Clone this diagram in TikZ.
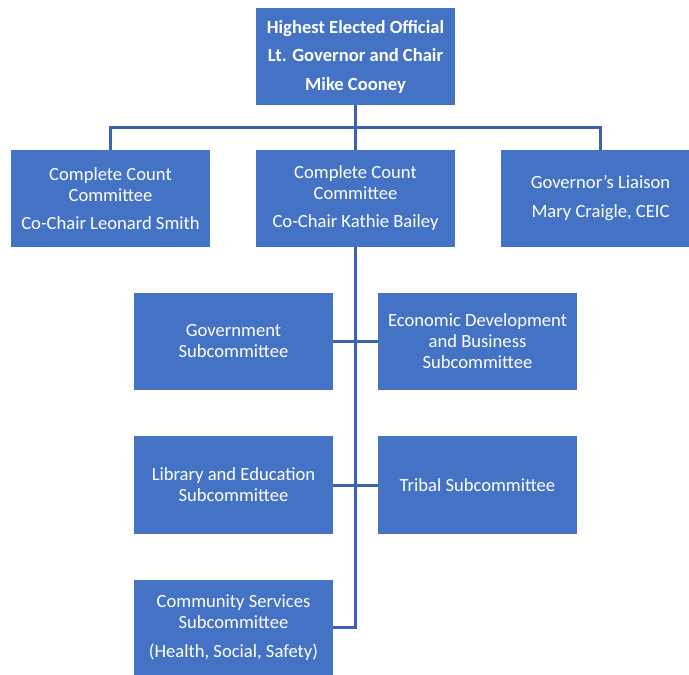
\documentclass[tikz,border=0pt]{standalone}
\usepackage{fontspec}
\setmainfont{Carlito}
\definecolor{boxblue}{HTML}{4472C4}
\definecolor{lineblue}{HTML}{3A62AD}
\begin{document}
\begin{tikzpicture}[x=1pt,y=-1pt,
  orgbox/.style={fill=boxblue,draw=none,text=white,align=center,inner sep=0pt,
    minimum width=199pt,minimum height=97pt,font=\fontsize{18.6}{21}\selectfont},
  conn/.style={draw=lineblue,line width=3pt}]
\useasboundingbox (0,0) rectangle (689,675);
\clip (0,0) rectangle (689,675);
\node[orgbox,font=\bfseries\fontsize{18.6}{28.5}\selectfont] (top) at (355.5,56.5) {Highest Elected Official\\Lt. Governor and Chair\\Mike Cooney};
\node[orgbox] (left) at (110.5,198.5) {Complete Count\\Committee\\[7pt]Co-Chair Leonard Smith};
\node[orgbox] (mid) at (355.5,198.5) {Complete Count\\Committee\\[7pt]Co-Chair Kathie Bailey};
\node[orgbox] (right) at (600.5,198.5) {Governor’s Liaison\\[8pt]Mary Craigle, CEIC};
\node[orgbox] (gov) at (233.5,341.5) {Government\\Subcommittee};
\node[orgbox] (econ) at (477.5,341.5) {Economic Development\\and Business\\Subcommittee};
\node[orgbox,minimum height=98pt] (lib) at (233.5,485) {Library and Education\\Subcommittee};
\node[orgbox,minimum height=98pt] (trib) at (477.5,485) {Tribal Subcommittee};
\node[orgbox,minimum height=95pt] (comm) at (233.5,627.5) {Community Services\\Subcommittee\\[8pt](Health, Social, Safety)};
\coordinate (bus) at (355.5,127);
\draw[conn] (top.south) -- (mid.north);
\draw[conn] (left.north) |- (bus) -| (right.north);
\draw[conn] (mid.south) |- (comm.east);
\draw[conn] (gov.east) -- (econ.west);
\draw[conn] (lib.east) -- (trib.west);
\end{tikzpicture}
\end{document}
